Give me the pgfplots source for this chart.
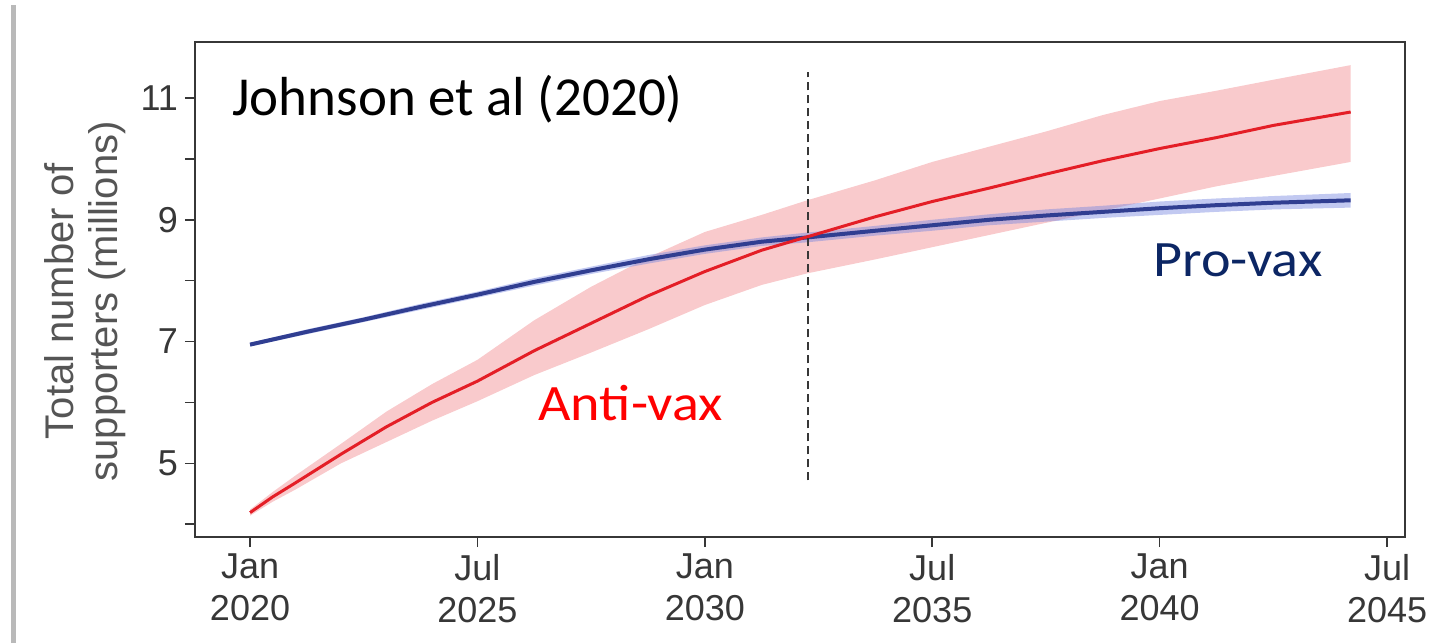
\documentclass[border=0pt]{standalone}
\usepackage{pgfplots}
\pgfplotsset{compat=1.18}
\usepackage{pgfplotstable}
\usepgfplotslibrary{fillbetween}
\usepackage{fontspec}
\setmainfont{Liberation Sans}
\newfontfamily\annfont{Carlito}
\newfontfamily\annfontwide[FakeStretch=1.1]{Carlito}
\definecolor{axgray}{RGB}{55,55,55}
\definecolor{labgray}{RGB}{85,85,85}
\definecolor{antired}{RGB}{228,30,38}
\definecolor{bandred}{RGB}{248,196,198}
\definecolor{problue}{RGB}{48,62,145}
\definecolor{bandblue}{RGB}{120,135,225}
\definecolor{navytext}{RGB}{12,38,100}

\pgfplotstableread{
x     m      lo    hi
0     4.19   4.14  4.24
0.1   4.45   4.37  4.53
0.2   4.68   4.57  4.80
0.4   5.15   5.00  5.32
0.6   5.60   5.35  5.85
0.8   6.00   5.70  6.30
1.0   6.35   6.02  6.70
1.25  6.85   6.45  7.35
1.5   7.30   6.82  7.90
1.75  7.75   7.20  8.38
2.0   8.15   7.60  8.80
2.25  8.50   7.93  9.08
2.45  8.72   8.12  9.32
2.75  9.05   8.35  9.65
3.0   9.30   8.55  9.95
3.25  9.52   8.75  10.20
3.5   9.75   8.95  10.45
3.75  9.97   9.15  10.72
4.0   10.17  9.35  10.95
4.25  10.35  9.55  11.12
4.5   10.55  9.72  11.30
4.84  10.77  9.95  11.54
}\antivax

\pgfplotstableread{
x     m      lo    hi
0     6.95   6.92  6.98
0.25  7.16   7.12  7.20
0.5   7.36   7.32  7.40
0.75  7.57   7.52  7.62
1.0   7.77   7.72  7.82
1.25  7.98   7.92  8.04
1.5   8.17   8.11  8.23
1.75  8.35   8.28  8.42
2.0   8.51   8.44  8.58
2.25  8.64   8.57  8.71
2.45  8.71   8.63  8.79
2.75  8.82   8.74  8.90
3.0   8.91   8.82  9.00
3.25  9.00   8.91  9.09
3.5   9.07   8.97  9.17
3.75  9.13   9.03  9.23
4.0   9.19   9.08  9.30
4.25  9.24   9.13  9.35
4.5   9.28   9.17  9.39
4.84  9.32   9.20  9.44
}\provax

\begin{document}
\begin{tikzpicture}
\begin{axis}[
  at={(0,0)}, anchor=south west,
  scale only axis,
  width=605pt, height=247.5pt,
  xmin=-0.242, xmax=5.079,
  ymin=3.79, ymax=11.92,
  axis line style={axgray, line width=1pt},
  tick style={axgray, line width=0.8pt},
  tick align=outside,
  major tick length=5pt,
  xtick={0,1,2,3,4,5},
  xticklabels={{Jan\\2020},{Jul\\2025},{Jan\\2030},{Jul\\2035},{Jan\\2040},{Jul\\2045}},
  xticklabel style={align=center, font=\fontsize{18}{21}\selectfont, text=axgray},
  ytick={4,5,6,7,8,9,10,11},
  yticklabels={,5,,7,,9,,11},
  yticklabel style={font=\fontsize{18}{21}\selectfont, text=axgray},
  xtick pos=bottom, ytick pos=left,
  ylabel={Total number of\\supporters (millions)},
  ylabel style={align=center, font=\fontsize{20}{22}\selectfont, text=labgray,
    at={(axis description cs:-0.0909,0.476)}, anchor=center},
  clip=false,
]
\addplot[name path=rlo, draw=none] table[x=x, y=lo] {\antivax};
\addplot[name path=rhi, draw=none] table[x=x, y=hi] {\antivax};
\addplot[bandred, fill opacity=0.9] fill between[of=rhi and rlo];
\addplot[name path=blo, draw=none] table[x=x, y=lo] {\provax};
\addplot[name path=bhi, draw=none] table[x=x, y=hi] {\provax};
\addplot[bandblue, fill opacity=0.45] fill between[of=bhi and blo];
\addplot[problue, line width=2pt] table[x=x, y=m] {\provax};
\addplot[antired, line width=1.5pt] table[x=x, y=m] {\antivax};
\addplot[axgray, line width=0.8pt, dash pattern=on 4pt off 2.5pt] coordinates {(2.454,4.72) (2.454,11.43)};
\node[anchor=base west, inner sep=0pt, font=\annfont\fontsize{27.5}{30}\selectfont, text=black]
  at (rel axis cs:0.0306,0.851) {Johnson et al (2020)};
\node[anchor=base west, inner sep=0pt, font=\annfontwide\fontsize{25.5}{28}\selectfont, text=red]
  at (rel axis cs:0.2835,0.236) {Anti-vax};
\node[anchor=base west, inner sep=0pt, font=\annfontwide\fontsize{25.5}{28}\selectfont, text=navytext]
  at (rel axis cs:0.7917,0.527) {Pro-vax};
\end{axis}
\draw[gray!55, line width=2.5pt] (-90.5pt,-53pt) -- (-90.5pt,266pt);
\pgfresetboundingbox
\useasboundingbox (-97.5pt,-53pt) rectangle (617pt,268.5pt);
\end{tikzpicture}
\end{document}
